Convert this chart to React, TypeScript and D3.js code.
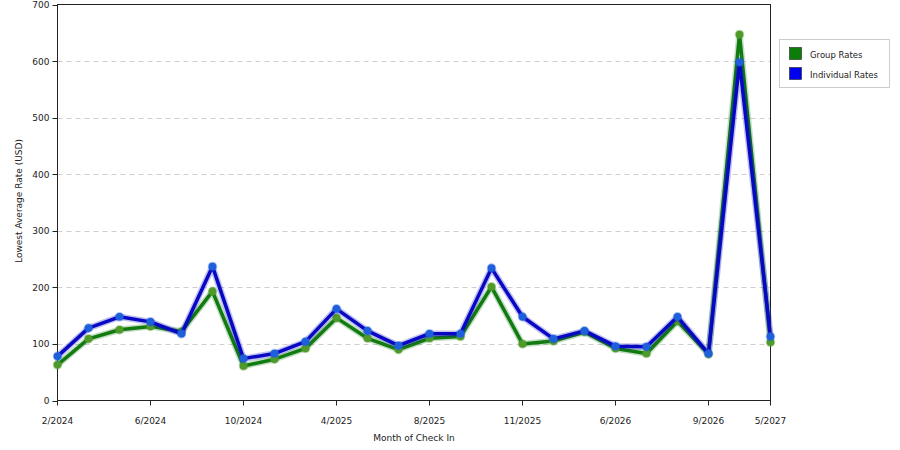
import React from "react";
import * as d3 from "d3";

const months = [
  "2/2024", "3/2024", "4/2024", "6/2024", "7/2024", "8/2024", "10/2024", "11/2024",
  "12/2024", "4/2025", "5/2025", "6/2025", "8/2025", "9/2025", "10/2025", "11/2025",
  "12/2025", "1/2026", "6/2026", "7/2026", "8/2026", "9/2026", "10/2026", "5/2027",
];
const tickLabels = ["2/2024", "6/2024", "10/2024", "4/2025", "8/2025", "11/2025", "6/2026", "9/2026", "5/2027"];
const groupRates = [63, 109, 125, 131, 122, 193, 61, 73, 92, 146, 110, 90, 110, 113, 201, 100, 105, 121, 92, 83, 140, 82, 647, 103];
const individualRates = [78, 128, 148, 139, 118, 237, 74, 83, 104, 162, 123, 97, 118, 118, 234, 148, 109, 123, 96, 95, 148, 83, 598, 113];
const yTicks = [0, 100, 200, 300, 400, 500, 600, 700];

const series = [
  { name: "Group Rates", values: groupRates, color: "#117a11", marker: "#4f9a2a", swatch: "#0b7d0b" },
  { name: "Individual Rates", values: individualRates, color: "#0808c4", marker: "#1f5fdc", swatch: "#0000ee" },
];

export default function App() {
  const W = 900, H = 450;
  const left = 57.5, right = 770.5, top = 4.5, bottom = 400.5;
  const x = d3.scalePoint<string>().domain(months).range([left, right]);
  const y = d3.scaleLinear().domain([0, 700]).range([bottom, top]);
  const line = d3.line<number>().x((_, i) => x(months[i]) as number).y((d) => y(d));
  const font = "'DejaVu Sans', Verdana, sans-serif";

  return (
    <svg width={W} height={H} style={{ position: "absolute", left: 0, top: 0, background: "#fff" }} fontFamily={font}>
      <rect x={0} y={0} width={W} height={H} fill="#fff" />
      {yTicks.filter((t) => t > 0 && t < 700).map((t) => (
        <line key={"g" + t} x1={left} x2={right} y1={Math.round(y(t)) + 0.5} y2={Math.round(y(t)) + 0.5}
          stroke="#cfcfcf" strokeDasharray="5,4" strokeWidth={1} />
      ))}
      <rect x={left} y={top} width={right - left} height={bottom - top} fill="none" stroke="#222" strokeWidth={1} />
      {yTicks.map((t) => (
        <g key={"y" + t}>
          <line x1={left - 5} x2={left} y1={Math.round(y(t)) + 0.5} y2={Math.round(y(t)) + 0.5} stroke="#222" />
          <text x={left - 8} y={y(t) + 3.5} fontSize={9} textAnchor="end" fill="#222">{t}</text>
        </g>
      ))}
      {tickLabels.map((m) => (
        <g key={"x" + m}>
          <line x1={x(m)} x2={x(m)} y1={bottom} y2={bottom + 5} stroke="#222" />
          <text x={x(m)} y={bottom + 23} fontSize={9} textAnchor="middle" fill="#222">{m}</text>
        </g>
      ))}
      <text x={414} y={441} fontSize={9} textAnchor="middle" fill="#222">Month of Check In</text>
      <text transform="translate(22,201) rotate(-90)" fontSize={9} textAnchor="middle" fill="#222">Lowest Average Rate (USD)</text>
      {series.map((s) => (
        <g key={s.name}>
          <path d={line(s.values) as string} fill="none" stroke={s.color} strokeOpacity={0.25} strokeWidth={6.5} strokeLinejoin="round" />
          <path d={line(s.values) as string} fill="none" stroke={s.color} strokeWidth={3.5} strokeLinejoin="round" />
          {s.values.map((v, i) => (
            <circle key={i} cx={x(months[i])} cy={y(v)} r={3.8} fill={s.marker} stroke={s.marker} strokeOpacity={0.4} strokeWidth={2} />
          ))}
        </g>
      ))}
      <rect x={779.5} y={39.5} width={110} height={48} fill="#fff" stroke="#ccc" />
      {series.map((s, i) => (
        <g key={"l" + s.name}>
          <rect x={789.5} y={47.5 + i * 20} width={12} height={12} fill={s.swatch} stroke="#222" strokeWidth={0.6} />
          <text x={810} y={57.5 + i * 20} fontSize={8.5} fill="#222">{s.name}</text>
        </g>
      ))}
    </svg>
  );
}
